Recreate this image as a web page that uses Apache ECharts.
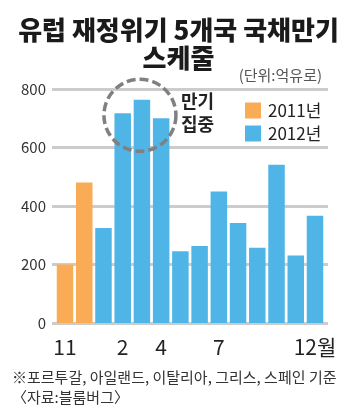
<!DOCTYPE html>
<html><head><meta charset="utf-8">
<script src="https://cdn.jsdelivr.net/npm/echarts@6/dist/echarts.min.js"></script>
<style>html,body{margin:0;padding:0;background:#fff;}#c{width:357px;height:418px;}</style>
</head><body><div id="c"></div>
<script>
var categories = ['11','12','1','2','3','4','5','6','7','8','9','10','11','12월'];
var xTickLabels = ['11','','','2','','4','','','7','','','','','12월'];
var values2011 = [200, 480, null, null, null, null, null, null, null, null, null, null, null, null];
var values2012 = [null, null, 325, 717, 763, 700, 245, 263, 450, 342, 257, 541, 231, 367];
var yTicks = [0, 200, 400, 600, 800];

var FONT = '"Noto Sans CJK KR", "Noto Sans", sans-serif';
var chart = echarts.init(document.getElementById('c'), null, {renderer: 'canvas'});
var gTop = 89, gBottom = 418 - 323;
var option = {
  animation: false,
  backgroundColor: '#fff',
  title: [{
    text: '유럽 재정위기 5개국 국채만기\n스케줄',
    left: 'center', top: 11,
    textStyle: {fontFamily: FONT, fontSize: 26, fontWeight: 900, color: '#1a1a1a', lineHeight: 28}
  }],
  legend: {
    orient: 'vertical', left: 240, top: 97, itemWidth: 16, itemHeight: 16, itemGap: 6,
    icon: 'rect',
    textStyle: {fontFamily: FONT, fontSize: 17, color: '#222', padding: [0,0,0,2]},
    data: ['2011년', '2012년']
  },
  grid: [
    {left: 55.4, right: 357 - 324.6, top: gTop, bottom: gBottom},
    {left: 52, right: 357 - 328, top: gTop, bottom: gBottom}
  ],
  xAxis: [{
    gridIndex: 0, type: 'category', data: categories,
    axisLine: {show: false}, axisTick: {show: false},
    axisLabel: {interval: 0, margin: 14, fontFamily: FONT, fontSize: 21, color: '#222',
      formatter: function (v, i) { return xTickLabels[i]; }}
  }, {
    gridIndex: 1, type: 'category', data: categories, show: false
  }],
  yAxis: [{
    gridIndex: 0, type: 'value', min: 0, max: 800, interval: 200, show: false
  }, {
    gridIndex: 1, type: 'value', min: yTicks[0], max: yTicks[yTicks.length - 1], interval: 200, z: 0,
    axisLine: {show: false}, axisTick: {show: false},
    axisLabel: {margin: 6, fontFamily: FONT, fontSize: 15, color: '#333'},
    splitLine: {show: true, lineStyle: {color: '#cccccc', width: 3}}
  }],
  series: [{
    name: '2011년', type: 'bar', stack: 's', xAxisIndex: 0, yAxisIndex: 0,
    data: values2011, barWidth: 16.5, itemStyle: {color: '#F9AB55'}, z: 3
  }, {
    name: '2012년', type: 'bar', stack: 's', xAxisIndex: 0, yAxisIndex: 0,
    data: values2012, barWidth: 16.5, itemStyle: {color: '#4FB5E7'}, z: 3
  }]
};
chart.setOption(option);

var center = chart.convertToPixel({xAxisIndex: 0, yAxisIndex: 0}, [4, 700]);
chart.setOption({
  graphic: [
    {type: 'circle', shape: {cx: center[0] - 2, cy: center[1] - 3, r: 36},
     style: {fill: null, stroke: '#808080', lineWidth: 3.5, lineDash: [9, 4]}, z: 10},
    {type: 'text', left: 181, top: 90,
     style: {text: '만기\n집중', fontFamily: FONT, fontSize: 18, fontWeight: 'bold', fill: '#222', lineHeight: 23}},
    {type: 'text', right: 35, top: 68,
     style: {text: '(단위:억유로)', fontFamily: FONT, fontSize: 15, fill: '#555'}},
    {type: 'text', left: 12, top: 370,
     style: {text: '※포르투갈, 아일랜드, 이탈리아, 그리스, 스페인 기준', fontFamily: FONT, fontSize: 15, fill: '#333'}},
    {type: 'text', left: 12, top: 390,
     style: {text: '〈자료:블룸버그〉', fontFamily: FONT, fontSize: 15, fill: '#333'}}
  ]
});
</script></body></html>
